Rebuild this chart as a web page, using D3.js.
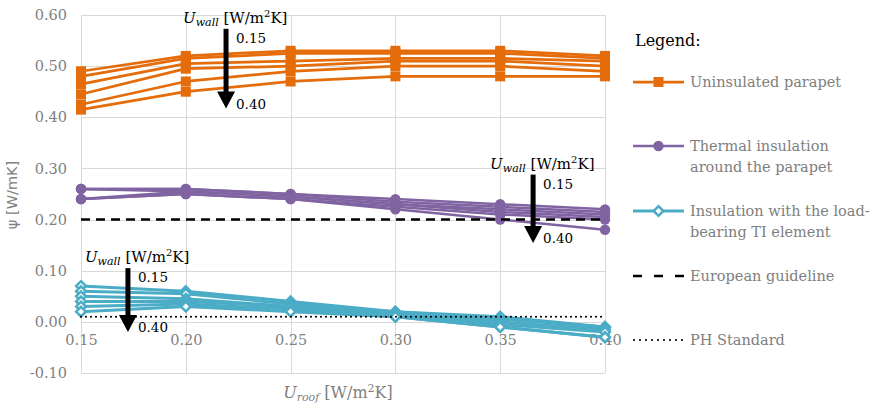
<!DOCTYPE html>
<html><head><meta charset="utf-8">
<script src="https://cdn.jsdelivr.net/npm/d3@7/dist/d3.min.js"></script>
<style>body{margin:0;background:#fff}svg{display:block}</style>
</head><body><svg id="c" width="880" height="406"></svg>
<script>
// ---- data ----
const uRoof = [0.15, 0.20, 0.25, 0.30, 0.35, 0.40];
const uWall = [0.15, 0.20, 0.25, 0.30, 0.35, 0.40];
const yTicks = [-0.10, 0.00, 0.10, 0.20, 0.30, 0.40, 0.50, 0.60];
const uninsulated = [
  [0.490, 0.520, 0.530, 0.530, 0.530, 0.520],
  [0.480, 0.515, 0.525, 0.525, 0.525, 0.515],
  [0.465, 0.505, 0.510, 0.515, 0.515, 0.510],
  [0.445, 0.495, 0.500, 0.510, 0.510, 0.500],
  [0.425, 0.470, 0.490, 0.500, 0.500, 0.490],
  [0.415, 0.450, 0.470, 0.480, 0.480, 0.480]
];
const thermalAround = [
  [0.260, 0.260, 0.250, 0.240, 0.230, 0.220],
  [0.260, 0.260, 0.250, 0.235, 0.225, 0.215],
  [0.260, 0.255, 0.245, 0.230, 0.220, 0.210],
  [0.240, 0.255, 0.245, 0.230, 0.215, 0.205],
  [0.240, 0.250, 0.240, 0.225, 0.210, 0.200],
  [0.240, 0.250, 0.240, 0.220, 0.200, 0.180]
];
const tiElement = [
  [0.070, 0.060, 0.040, 0.020, 0.010, -0.010],
  [0.060, 0.055, 0.035, 0.020, 0.005, -0.010],
  [0.050, 0.045, 0.030, 0.015, 0.000, -0.015],
  [0.040, 0.040, 0.030, 0.015, -0.005, -0.020],
  [0.030, 0.035, 0.025, 0.010, -0.010, -0.030],
  [0.020, 0.030, 0.020, 0.010, -0.010, -0.030]
];
const europeanGuideline = 0.20;
const phStandard = 0.01;
const legendItems = [
  {key: "orange", lines: ["Uninsulated parapet"]},
  {key: "purple", lines: ["Thermal insulation", "around the parapet"]},
  {key: "teal", lines: ["Insulation with the load-", "bearing TI element"]},
  {key: "dash", lines: ["European guideline"]},
  {key: "dot", lines: ["PH Standard"]}
];
// arrows: x position, y top, y tip (data units)
const arrows = [
  {x: 0.2192, y0: 0.573, y1: 0.417},
  {x: 0.3657, y0: 0.288, y1: 0.154},
  {x: 0.1724, y0: 0.105, y1: -0.020}
];

// ---- drawing ----
const C = {orange: "#E46C0A", purple: "#8064A2", teal: "#4BACC6", grid: "#D9D9D9", text: "#808080"};
const serif = "'DejaVu Serif', serif";
const fmt = d => d.toFixed(2);
const svg = d3.select("#c");
const x = d3.scaleLinear().domain([0.15, 0.40]).range([81, 605]);
const y = d3.scaleLinear().domain([-0.10, 0.60]).range([373, 15]);

const g = svg.append("g");
// gridlines
g.selectAll(".hg").data(yTicks).join("line")
  .attr("x1", x(0.15)).attr("x2", x(0.40))
  .attr("y1", d => Math.round(y(d)) + 0.5).attr("y2", d => Math.round(y(d)) + 0.5)
  .attr("stroke", C.grid).attr("stroke-width", 1);
g.selectAll(".vg").data(uRoof).join("line")
  .attr("x1", d => Math.round(x(d)) + 0.5).attr("x2", d => Math.round(x(d)) + 0.5)
  .attr("y1", y(0.60)).attr("y2", y(-0.10))
  .attr("stroke", C.grid).attr("stroke-width", 1);

// y tick labels
const yAxis = d3.axisLeft(y).tickValues(yTicks).tickFormat(fmt).tickSize(0).tickPadding(14);
const ya = svg.append("g").attr("transform", `translate(${x(0.15)},0)`).call(yAxis);
ya.select(".domain").remove();
ya.selectAll("text").attr("font-family", serif).attr("font-size", 14.5).attr("fill", C.text);

// x tick labels (axis at 0)
const xAxis = d3.axisBottom(x).tickValues(uRoof).tickFormat(fmt).tickSize(0).tickPadding(13);
const xa = svg.append("g").attr("transform", `translate(0,${y(0)})`).call(xAxis);
xa.select(".domain").remove();
xa.selectAll("text").attr("font-family", serif).attr("font-size", 14.5).attr("fill", C.text);

const line = d3.line().x((d, i) => x(uRoof[i])).y(d => y(d));

function drawSeries(data, color, width) {
  svg.append("g").selectAll("path").data(data).join("path")
    .attr("d", line).attr("fill", "none").attr("stroke", color)
    .attr("stroke-width", width).attr("stroke-linejoin", "round");
}
drawSeries(uninsulated, C.orange, 2.75);
uninsulated.forEach(s => {
  svg.append("g").selectAll("rect").data(s).join("rect")
    .attr("x", (d, i) => x(uRoof[i]) - 5).attr("y", d => y(d) - 5)
    .attr("width", 10).attr("height", 10).attr("fill", C.orange);
});
drawSeries(thermalAround, C.purple, 2.5);
thermalAround.forEach(s => {
  svg.append("g").selectAll("circle").data(s).join("circle")
    .attr("cx", (d, i) => x(uRoof[i])).attr("cy", d => y(d)).attr("r", 5.2).attr("fill", C.purple);
});
drawSeries(tiElement, C.teal, 3);
const diamond = d3.symbol().type(d3.symbolDiamond2).size(60);
tiElement.forEach(s => {
  svg.append("g").selectAll("path").data(s).join("path")
    .attr("d", diamond)
    .attr("transform", (d, i) => `translate(${x(uRoof[i])},${y(d)})`)
    .attr("fill", "#fff").attr("stroke", C.teal).attr("stroke-width", 2.5);
});

// reference lines
svg.append("line").attr("x1", x(0.15)).attr("x2", x(0.40))
  .attr("y1", y(europeanGuideline)).attr("y2", y(europeanGuideline))
  .attr("stroke", "#000").attr("stroke-width", 2.5).attr("stroke-dasharray", "9,6");
svg.append("line").attr("x1", x(0.15)).attr("x2", x(0.40))
  .attr("y1", y(phStandard)).attr("y2", y(phStandard))
  .attr("stroke", "#000").attr("stroke-width", 2.2).attr("stroke-linecap", "round")
  .attr("stroke-dasharray", "0,5");

// arrows + labels
arrows.forEach(a => {
  const ax = x(a.x), t = y(a.y0), b = y(a.y1);
  const ag = svg.append("g");
  ag.append("line").attr("x1", ax).attr("x2", ax).attr("y1", t).attr("y2", b - 14)
    .attr("stroke", "#000").attr("stroke-width", 5);
  ag.append("path").attr("d", `M${ax - 9},${b - 17}L${ax + 9},${b - 17}L${ax},${b}Z`).attr("fill", "#000");
  const lab = ag.append("text").attr("x", ax - 43).attr("y", t - 6)
    .attr("font-family", serif).attr("font-size", 15).attr("fill", "#000");
  lab.append("tspan").attr("font-style", "italic").text("U");
  lab.append("tspan").attr("font-style", "italic").attr("font-size", 11).attr("dy", 3).text("wall");
  lab.append("tspan").attr("dy", -3).text(" [W/m");
  lab.append("tspan").attr("font-size", 10).attr("dy", -6).text("2");
  lab.append("tspan").attr("dy", 6).text("K]");
  ag.append("text").attr("x", ax + 10).attr("y", t + 14).attr("font-family", serif)
    .attr("font-size", 13.5).attr("fill", "#000").text("0.15");
  ag.append("text").attr("x", ax + 10).attr("y", b).attr("font-family", serif)
    .attr("font-size", 13.5).attr("fill", "#000").text("0.40");
});

// axis titles
svg.append("text").attr("transform", `translate(17,195) rotate(-90)`).attr("text-anchor", "middle")
  .attr("font-family", "'DejaVu Sans', sans-serif").attr("font-size", 14.5).attr("fill", C.text)
  .text("ψ [W/mK]");
const xt = svg.append("text").attr("x", 338).attr("y", 398).attr("text-anchor", "middle")
  .attr("font-family", serif).attr("font-size", 16).attr("fill", C.text);
xt.append("tspan").attr("font-style", "italic").text("U");
xt.append("tspan").attr("font-style", "italic").attr("font-size", 11).attr("dy", 3).text("roof");
xt.append("tspan").attr("dy", -3).text("  [W/m");
xt.append("tspan").attr("font-size", 11).attr("dy", -6).text("2");
xt.append("tspan").attr("dy", 6).text("K]");

// legend
const lg = svg.append("g");
lg.append("text").attr("x", 635).attr("y", 46).attr("font-family", serif).attr("font-size", 16)
  .attr("fill", "#000").text("Legend:");
const rowY = [82, 146, 211, 276, 340];
legendItems.forEach((it, i) => {
  const yy = rowY[i];
  const x0 = 633, x1 = 684, xm = 658.5;
  if (it.key === "orange") {
    lg.append("line").attr("x1", x0).attr("x2", x1).attr("y1", yy).attr("y2", yy).attr("stroke", C.orange).attr("stroke-width", 2.75);
    lg.append("rect").attr("x", xm - 5).attr("y", yy - 5).attr("width", 10).attr("height", 10).attr("fill", C.orange);
  } else if (it.key === "purple") {
    lg.append("line").attr("x1", x0).attr("x2", x1).attr("y1", yy).attr("y2", yy).attr("stroke", C.purple).attr("stroke-width", 2.5);
    lg.append("circle").attr("cx", xm).attr("cy", yy).attr("r", 5.2).attr("fill", C.purple);
  } else if (it.key === "teal") {
    lg.append("line").attr("x1", x0).attr("x2", x1).attr("y1", yy).attr("y2", yy).attr("stroke", C.teal).attr("stroke-width", 3);
    lg.append("path").attr("d", diamond).attr("transform", `translate(${xm},${yy})`).attr("fill", "#fff").attr("stroke", C.teal).attr("stroke-width", 2.5);
  } else if (it.key === "dash") {
    lg.append("line").attr("x1", x0).attr("x2", x1).attr("y1", yy).attr("y2", yy).attr("stroke", "#000").attr("stroke-width", 2.5).attr("stroke-dasharray", "9,12");
  } else {
    lg.append("line").attr("x1", x0 + 1).attr("x2", x1).attr("y1", yy).attr("y2", yy).attr("stroke", "#000").attr("stroke-width", 2.2).attr("stroke-linecap", "round").attr("stroke-dasharray", "0,6");
  }
  it.lines.forEach((t, j) => {
    lg.append("text").attr("x", 690).attr("y", yy + 5 + j * 21).attr("font-family", serif)
      .attr("font-size", 14.5).attr("fill", C.text).text(t);
  });
});
</script></body></html>
